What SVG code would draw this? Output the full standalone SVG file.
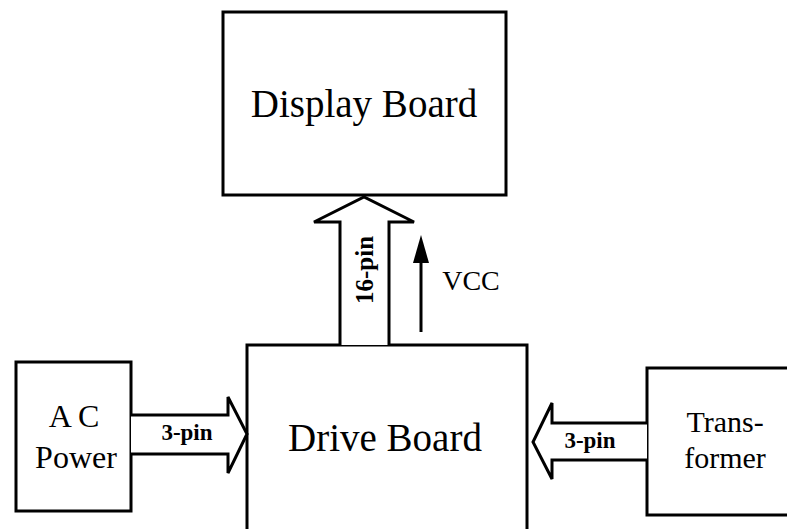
<svg xmlns="http://www.w3.org/2000/svg" width="787" height="529" viewBox="0 0 787 529">
<style>
.box{fill:#fff;stroke:#000;stroke-width:3}
.fat{fill:#fff;stroke:#000;stroke-width:3;stroke-linejoin:miter}
.t{font-family:"Liberation Serif","Times New Roman",serif;fill:#000;text-anchor:middle}
.b{font-family:"Liberation Serif","Times New Roman",serif;font-weight:bold;fill:#000;text-anchor:middle}
</style>
<rect width="787" height="529" fill="#fff"/>
<g id="display-board">
<rect class="box" x="223" y="12" width="283" height="183"/>
<text class="t" x="364" y="117" font-size="39">Display Board</text>
</g>
<g id="drive-board">
<rect class="box" x="247" y="345" width="280" height="200"/>
<text class="t" x="385" y="451" font-size="39">Drive Board</text>
</g>
<g id="ac-power">
<rect class="box" x="16" y="362" width="115" height="149"/>
<text class="t" x="74" y="427" font-size="32">A C</text>
<text class="t" x="76" y="468" font-size="32">Power</text>
</g>
<g id="transformer">
<rect class="box" x="647" y="368" width="150" height="147"/>
<text class="t" x="725" y="432" font-size="30">Trans-</text>
<text class="t" x="725" y="468" font-size="30">former</text>
</g>
<g id="connectors">
<path class="fat" d="M340,345 L340,222 L314,222 L364,197 L414,222 L389,222 L389,345"/>
<text class="b" transform="translate(373,270) rotate(-90)" font-size="25">16-pin</text>
<line x1="421" y1="332" x2="421" y2="262" stroke="#000" stroke-width="3"/>
<path d="M413,263 L421,235 L429,263 Z" fill="#000"/>
<text class="t" x="471" y="290" font-size="28">VCC</text>
<path class="fat" d="M131,415 L228,415 L228,397 L247,434 L228,473 L228,454 L131,454"/>
<text class="b" x="187" y="440" font-size="23">3-pin</text>
<path class="fat" d="M647,423 L552,423 L552,403 L533,442 L552,479 L552,460 L647,460"/>
<text class="b" x="590" y="448" font-size="23">3-pin</text>
</g>
</svg>
